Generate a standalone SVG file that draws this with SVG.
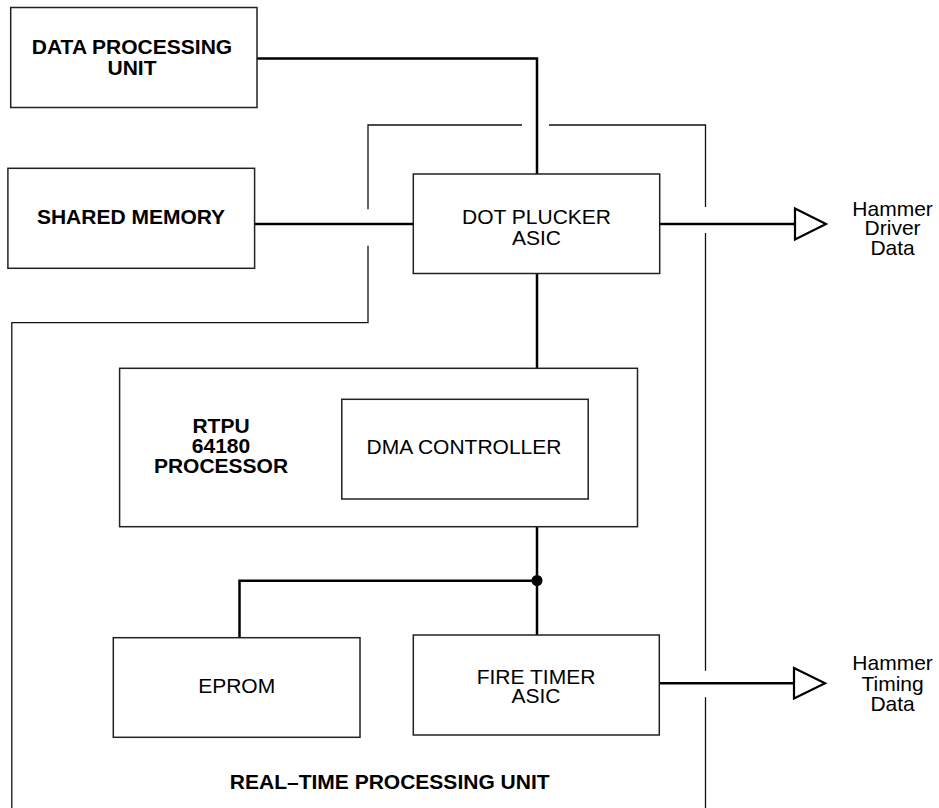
<svg xmlns="http://www.w3.org/2000/svg" width="939" height="808" viewBox="0 0 939 808">
<style>
.box{fill:#fff;stroke:#222;stroke-width:1.5}
.wire{fill:none;stroke:#000;stroke-width:2.5}
.bound{fill:none;stroke:#111;stroke-width:1.3}
.buf{fill:#fff;stroke:#000;stroke-width:2.2;stroke-linejoin:miter}
text{font-family:"Liberation Sans",Arial,sans-serif;font-size:21px;fill:#000;text-anchor:middle}
.b{font-weight:bold}
</style>
<rect width="939" height="808" fill="#fff"/>
<g id="boundary">
<path class="bound" d="M368,209.3 V125 H522 M549,125 H705.5 V207 M705.5,233 V670.7 M705.5,697.3 V808 M368,245.7 V322.7 H11.8 V808"/>
</g>
<g id="connectors">
<path class="wire" d="M257,58.5 H537 V174"/>
<path class="wire" d="M254.6,224 H413"/>
<path class="wire" d="M660,224 H795"/>
<path class="wire" d="M537,274 V368.3"/>
<path class="wire" d="M537,526.7 V635"/>
<path class="wire" d="M537,580.7 H239.5 V637.7"/>
<path class="wire" d="M659,683.3 H794"/>
<circle cx="537" cy="580.5" r="5.5" fill="#000"/>
<polygon class="buf" points="795,208.5 826,224 795,239.5"/>
<polygon class="buf" points="794,668 825,683.3 794,698.5"/>
</g>
<g id="dpu">
<rect class="box" x="10.7" y="7.5" width="246.3" height="100"/>
<text class="b" x="132" y="54.3">DATA PROCESSING</text>
<text class="b" x="132" y="75">UNIT</text>
</g>
<g id="shared-memory">
<rect class="box" x="7.9" y="168.3" width="246.7" height="100"/>
<text class="b" x="131" y="224">SHARED MEMORY</text>
</g>
<g id="dot-plucker">
<rect class="box" x="413.3" y="174" width="246.4" height="99.5"/>
<text x="536.5" y="224.3">DOT PLUCKER</text>
<text x="536.5" y="245">ASIC</text>
</g>
<g id="rtpu-processor">
<rect class="box" x="119.6" y="368.3" width="517.9" height="158.4"/>
<text class="b" x="221" y="432.7">RTPU</text>
<text class="b" x="221" y="452.7">64180</text>
<text class="b" x="221" y="473.3">PROCESSOR</text>
</g>
<g id="dma-controller">
<rect class="box" x="341.8" y="399.3" width="246.4" height="99.7"/>
<text x="464" y="454">DMA CONTROLLER</text>
</g>
<g id="eprom">
<rect class="box" x="113.3" y="637.7" width="246.7" height="99.6"/>
<text x="236.7" y="693.3">EPROM</text>
</g>
<g id="fire-timer">
<rect class="box" x="413.3" y="635" width="246" height="100"/>
<text x="536" y="684">FIRE TIMER</text>
<text x="536" y="703.3">ASIC</text>
</g>
<g id="hammer-driver-data">
<text x="892.6" y="215.7">Hammer</text>
<text x="892.6" y="235.3">Driver</text>
<text x="892.6" y="255">Data</text>
</g>
<g id="hammer-timing-data">
<text x="892.6" y="670">Hammer</text>
<text x="892.6" y="690.7">Timing</text>
<text x="892.6" y="711">Data</text>
</g>
<g id="rtpu-label">
<text class="b" x="389.7" y="789.3">REAL–TIME PROCESSING UNIT</text>
</g>
</svg>
